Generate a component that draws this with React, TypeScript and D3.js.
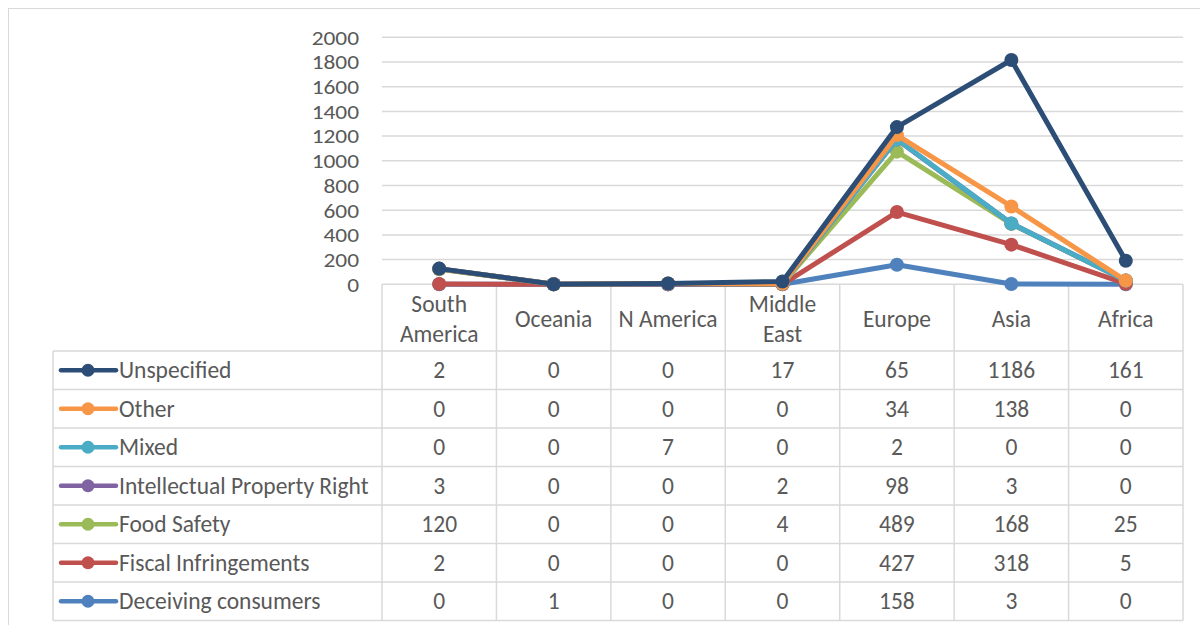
import React from "react";
import * as d3 from "d3";

const categories = ["South America", "Oceania", "N America", "Middle East", "Europe", "Asia", "Africa"];
const categoryLines = [["South", "America"], ["Oceania"], ["N America"], ["Middle", "East"], ["Europe"], ["Asia"], ["Africa"]];

// series in table order (top to bottom)
const seriesNames = ["Unspecified", "Other", "Mixed", "Intellectual Property Right", "Food Safety", "Fiscal Infringements", "Deceiving consumers"];
const unspecified = [2, 0, 0, 17, 65, 1186, 161];
const other = [0, 0, 0, 0, 34, 138, 0];
const mixed = [0, 0, 7, 0, 2, 0, 0];
const ipr = [3, 0, 0, 2, 98, 3, 0];
const foodSafety = [120, 0, 0, 4, 489, 168, 25];
const fiscal = [2, 0, 0, 0, 427, 318, 5];
const deceiving = [0, 1, 0, 0, 158, 3, 0];
const seriesColors = ["#2C4D75", "#F79646", "#4BACC6", "#8064A2", "#9BBB59", "#C0504D", "#4F81BD"];
const yTicks = [0, 200, 400, 600, 800, 1000, 1200, 1400, 1600, 1800, 2000];

const seriesValues = [unspecified, other, mixed, ipr, foodSafety, fiscal, deceiving];

const FONT = "Calibri, Carlito, Lato, 'Open Sans', sans-serif";
const TXT = "#595959";
const GRID = "#D9D9D9";
const FS = 23.5;

export default function App() {
  const W = 1200, H = 625;
  const plotLeft = 382, plotRight = 1183, yTop = 37.3, yBottom = 284.3;
  const tableLeft = 53;
  const headerBottom = 351;
  const rowH = 38.5;

  const x = d3.scaleBand<string>().domain(categories).range([plotLeft, plotRight]);
  const y = d3.scaleLinear().domain([0, 2000]).range([yBottom, yTop]);

  // stacking: bottom series is the last in table order
  const stackOrder = [...seriesNames].reverse();
  const table = categories.map((c, i) => {
    const row: any = { cat: c };
    seriesNames.forEach((s, k) => (row[s] = seriesValues[k][i]));
    return row;
  });
  const stacked = d3.stack<any>().keys(stackOrder)(table);
  const line = d3
    .line<any>()
    .x((d) => (x(d.data.cat) as number) + x.bandwidth() / 2)
    .y((d) => y(d[1]));

  const colorOf = (name: string) => seriesColors[seriesNames.indexOf(name)];

  return (
    <svg width={W} height={H} style={{ position: "absolute", left: 0, top: 0 }} fontFamily={FONT}>
      <rect x={0} y={0} width={W} height={H} fill="#fff" />
      <rect x={8.5} y={8.5} width={W + 10} height={H + 10} fill="none" stroke={GRID} strokeWidth={1} />

      {/* gridlines & y ticks */}
      {yTicks.map((t) => (
        <g key={t}>
          {t > 0 && <line x1={plotLeft} x2={plotRight} y1={y(t)} y2={y(t)} stroke={GRID} strokeWidth={1.5} />}
          <g transform={`translate(359,${y(t)}) scale(1.14,1)`}>
            <text x={0} y={0} dy="0.36em" textAnchor="end" fontSize={20.5} fill={TXT}>
              {t}
            </text>
          </g>
        </g>
      ))}

      {/* table grid */}
      <g stroke={GRID} strokeWidth={1.5} fill="none">
        <line x1={plotLeft} x2={plotRight} y1={yBottom} y2={yBottom} />
        {categories.map((c) => (
          <line key={c} x1={x(c) as number} x2={x(c) as number} y1={yBottom} y2={headerBottom + rowH * 7} />
        ))}
        <line x1={plotRight} x2={plotRight} y1={yBottom} y2={headerBottom + rowH * 7} />
        <line x1={tableLeft} x2={tableLeft} y1={headerBottom} y2={headerBottom + rowH * 7} />
        {d3.range(8).map((r) => (
          <line key={r} x1={tableLeft} x2={plotRight} y1={headerBottom + r * rowH} y2={headerBottom + r * rowH} />
        ))}
      </g>

      {/* header labels */}
      {categoryLines.map((lines, i) => {
        const cx = (x(categories[i]) as number) + x.bandwidth() / 2;
        const cy = (yBottom + headerBottom) / 2 + 1;
        return (
          <text key={i} x={cx} textAnchor="middle" fontSize={FS} fill={TXT}>
            {lines.map((l, j) => (
              <tspan key={j} x={cx} y={cy + (j - (lines.length - 1) / 2) * 30} dy="0.35em">
                {l}
              </tspan>
            ))}
          </text>
        );
      })}

      {/* table rows */}
      {seriesNames.map((s, k) => {
        const cy = headerBottom + k * rowH + rowH / 2;
        return (
          <g key={s}>
            <line x1={61} x2={116} y1={cy} y2={cy} stroke={seriesColors[k]} strokeWidth={4.5} strokeLinecap="round" />
            <circle cx={88} cy={cy} r={6.5} fill={seriesColors[k]} />
            <text x={119} y={cy} dy="0.35em" fontSize={FS} fill={TXT}>
              {s}
            </text>
            {seriesValues[k].map((v, i) => (
              <text
                key={i}
                x={(x(categories[i]) as number) + x.bandwidth() / 2}
                y={cy}
                dy="0.35em"
                textAnchor="middle"
                fontSize={FS}
                fill={TXT}
              >
                {v}
              </text>
            ))}
          </g>
        );
      })}

      {/* stacked lines, bottom series first so top series draw over */}
      {stacked.map((layer) => (
        <g key={layer.key}>
          <path d={line(layer as any) as string} fill="none" stroke={colorOf(layer.key)} strokeWidth={5} strokeLinejoin="round" strokeLinecap="round" />
          {layer.map((d: any, i: number) => (
            <circle key={i} cx={(x(d.data.cat) as number) + x.bandwidth() / 2} cy={y(d[1])} r={7} fill={colorOf(layer.key)} />
          ))}
        </g>
      ))}
    </svg>
  );
}
